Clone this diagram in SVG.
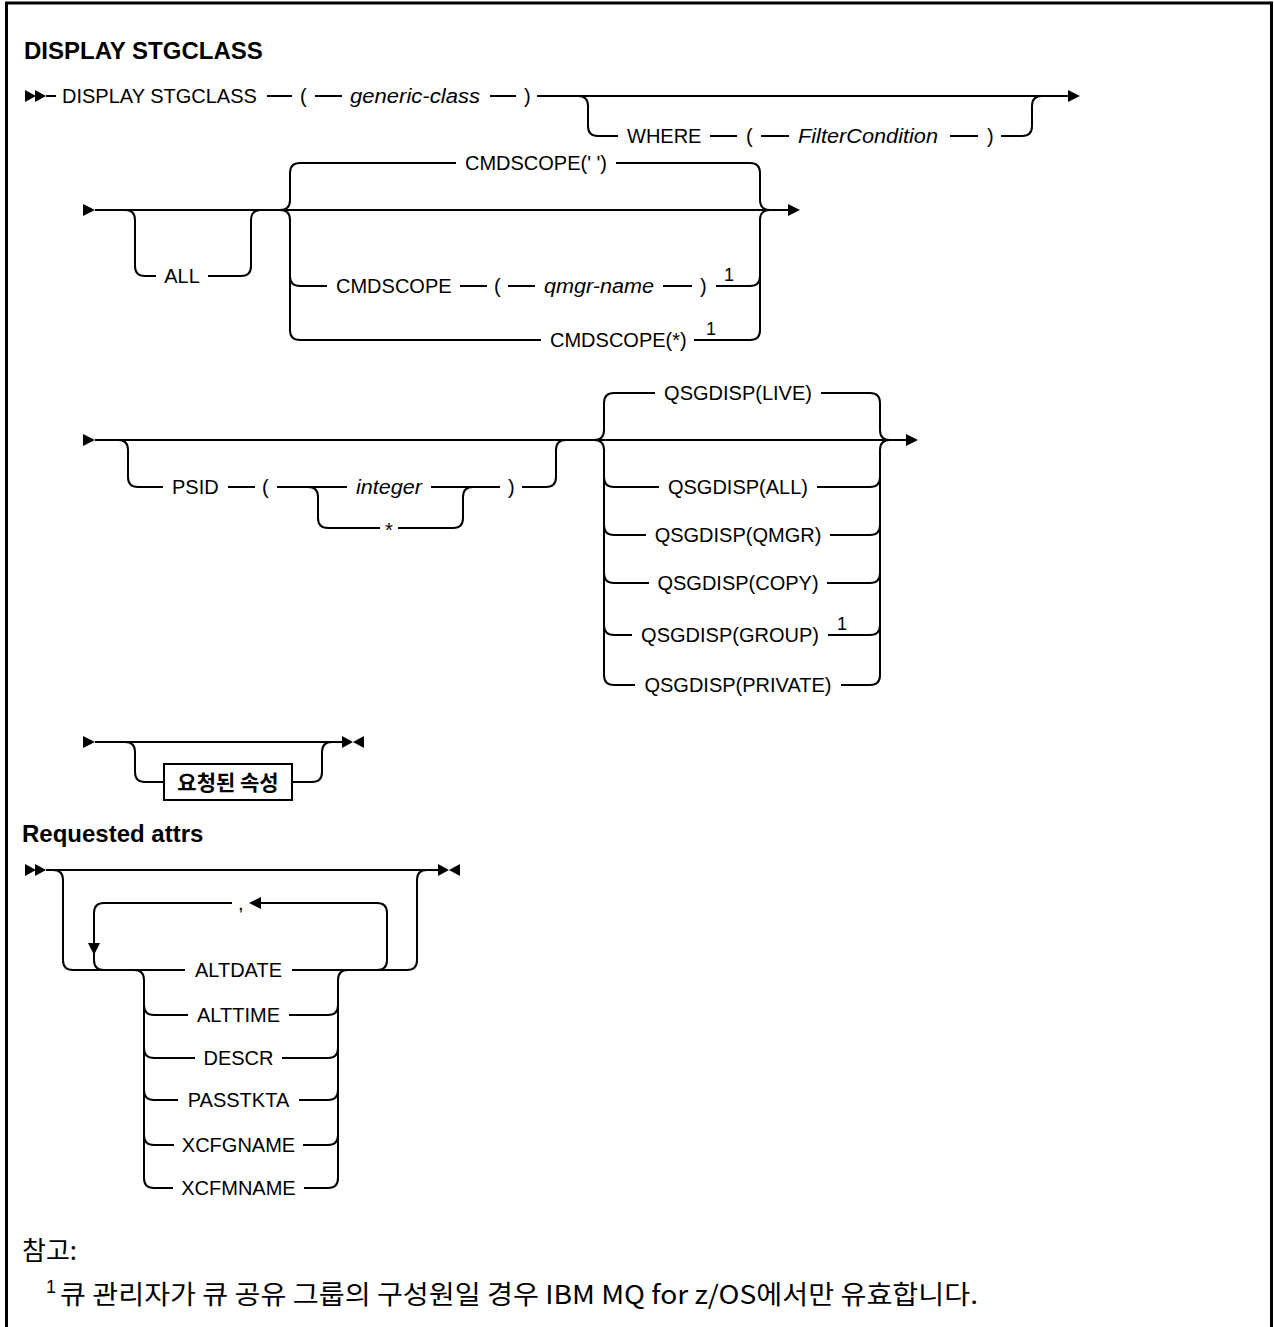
<svg xmlns="http://www.w3.org/2000/svg" width="1274" height="1327" viewBox="0 0 1274 1327">
<style>
.c{fill:none;stroke:#000;stroke-width:2}
.t{font-family:"Liberation Sans",Arial,sans-serif;font-size:20px;fill:#000}
.v{font-style:italic}
.m{text-anchor:middle}
.h{font-family:"Liberation Sans",Arial,sans-serif;font-size:24px;font-weight:bold;fill:#000}
.s{font-family:"Liberation Sans",Arial,sans-serif;font-size:18px;fill:#000}
.k{font-family:"Noto Sans CJK KR","Liberation Sans",sans-serif;fill:#000}
.box{fill:#fff;stroke:#000;stroke-width:2}
</style>
<defs>
<path id="ar" d="M0,-6L12,0L0,6Z"/>
<path id="al" d="M0,0L12,-6L12,6Z"/>
<path id="ad" d="M-6,0L6,0L0,12Z"/>
<g id="dbl"><path d="M0,-6L11,0L0,6Z"/><path d="M10,-6L21,0L10,6Z"/></g>
<g id="end"><path d="M0,-6L11,0L0,6Z"/><path d="M22,-6L11,0L22,6Z"/></g>
</defs>
<rect width="1274" height="1327" fill="#fff"/>
<path d="M6.5,1327V3H1271.5V1327" fill="none" stroke="#000" stroke-width="3"/>

<g id="connectors">
<!-- row 1 -->
<use href="#dbl" x="25" y="96"/>
<path class="c" d="M46,96H56"/>
<path class="c" d="M267,96H292"/>
<path class="c" d="M315,96H342"/>
<path class="c" d="M490,96H516"/>
<path class="c" d="M537,96H1068"/>
<use href="#ar" x="1068" y="96"/>
<path class="c" d="M578,96Q588,96 588,106V126Q588,136 598,136H618"/>
<path class="c" d="M710,136H737"/>
<path class="c" d="M761,136H789"/>
<path class="c" d="M950,136H978"/>
<path class="c" d="M1001,136H1022Q1032,136 1032,126V106Q1032,96 1042,96"/>
<!-- row 2 -->
<use href="#ar" x="83" y="210"/>
<path class="c" d="M95,210H788"/>
<use href="#ar" x="788" y="210"/>
<path class="c" d="M125,210Q135,210 135,220V266Q135,276 145,276H156"/>
<path class="c" d="M208,276H241Q251,276 251,266V220Q251,210 261,210"/>
<path class="c" d="M280,210Q290,210 290,200V173Q290,163 300,163H456"/>
<path class="c" d="M616,163H750Q760,163 760,173V200Q760,210 770,210"/>
<path class="c" d="M280,210Q290,210 290,220V330Q290,340 300,340H541"/>
<path class="c" d="M290,276Q290,286 300,286H327"/>
<path class="c" d="M460,286H487"/>
<path class="c" d="M508,286H535"/>
<path class="c" d="M663,286H692"/>
<path class="c" d="M716,286H750Q760,286 760,276"/>
<path class="c" d="M694,340H750Q760,340 760,330V220Q760,210 770,210"/>
<!-- row 3 -->
<use href="#ar" x="83" y="440"/>
<path class="c" d="M95,440H906"/>
<use href="#ar" x="906" y="440"/>
<path class="c" d="M118,440Q128,440 128,450V477Q128,487 138,487H163"/>
<path class="c" d="M228,487H255"/>
<path class="c" d="M277,487H347"/>
<path class="c" d="M431,487H500"/>
<path class="c" d="M522,487H546Q556,487 556,477V450Q556,440 566,440"/>
<path class="c" d="M308,487Q318,487 318,497V518Q318,528 328,528H380"/>
<path class="c" d="M398,528H453Q463,528 463,518V497Q463,487 473,487"/>
<path class="c" d="M594,440Q604,440 604,430V403Q604,393 614,393H655"/>
<path class="c" d="M821,393H870Q880,393 880,403V430Q880,440 890,440"/>
<path class="c" d="M594,440Q604,440 604,450V675Q604,685 614,685H635"/>
<path class="c" d="M604,477Q604,487 614,487H659"/>
<path class="c" d="M604,525Q604,535 614,535H646"/>
<path class="c" d="M604,573Q604,583 614,583H649"/>
<path class="c" d="M604,625Q604,635 614,635H632"/>
<path class="c" d="M841,685H870Q880,685 880,675V450Q880,440 890,440"/>
<path class="c" d="M817,487H870Q880,487 880,477"/>
<path class="c" d="M830,535H870Q880,535 880,525"/>
<path class="c" d="M827,583H870Q880,583 880,573"/>
<path class="c" d="M828,635H870Q880,635 880,625"/>
<!-- row 4 -->
<use href="#ar" x="83" y="742"/>
<path class="c" d="M95,742H342"/>
<use href="#end" x="342" y="742"/>
<path class="c" d="M125,742Q135,742 135,752V772Q135,782 145,782H164"/>
<path class="c" d="M292,782H312Q322,782 322,772V752Q322,742 332,742"/>
<!-- row 5 -->
<use href="#dbl" x="25" y="870"/>
<path class="c" d="M46,870H438"/>
<use href="#end" x="438" y="870"/>
<path class="c" d="M53,870Q63,870 63,880V960Q63,970 73,970H185"/>
<path class="c" d="M292,970H407Q417,970 417,960V880Q417,870 427,870"/>
<path class="c" d="M377,970Q387,970 387,960V913Q387,903 377,903H258"/>
<use href="#al" x="249" y="903"/>
<path class="c" d="M232,903H104Q94,903 94,913V960Q94,970 104,970"/>
<use href="#ad" x="94" y="943"/>
<path class="c" d="M134,970Q144,970 144,980V1178Q144,1188 154,1188H173"/>
<path class="c" d="M144,1005Q144,1015 154,1015H188"/>
<path class="c" d="M144,1048Q144,1058 154,1058H195"/>
<path class="c" d="M144,1090Q144,1100 154,1100H178"/>
<path class="c" d="M144,1135Q144,1145 154,1145H174"/>
<path class="c" d="M304,1188H328Q338,1188 338,1178V980Q338,970 348,970"/>
<path class="c" d="M289,1015H328Q338,1015 338,1005"/>
<path class="c" d="M282,1058H328Q338,1058 338,1048"/>
<path class="c" d="M299,1100H328Q338,1100 338,1090"/>
<path class="c" d="M303,1145H328Q338,1145 338,1135"/>
</g>

<g id="title-main"><text class="h" x="24" y="59">DISPLAY STGCLASS</text></g>
<g id="n-display"><text class="t" x="62" y="103">DISPLAY STGCLASS</text></g>
<g id="n-lp1"><text class="t" x="300" y="103">(</text></g>
<g id="n-generic"><text class="t v" x="350" y="103" textLength="130" lengthAdjust="spacingAndGlyphs">generic-class</text></g>
<g id="n-rp1"><text class="t" x="524" y="103">)</text></g>
<g id="n-where"><text class="t" x="627" y="143">WHERE</text></g>
<g id="n-lp2"><text class="t" x="746" y="143">(</text></g>
<g id="n-filter"><text class="t v" x="798" y="143" textLength="140" lengthAdjust="spacingAndGlyphs">FilterCondition</text></g>
<g id="n-rp2"><text class="t" x="987" y="143">)</text></g>

<g id="n-all"><text class="t m" x="182" y="283">ALL</text></g>
<g id="n-cmd-blank"><text class="t m" x="536" y="170">CMDSCOPE(' ')</text></g>
<g id="n-cmd-q"><text class="t" x="336" y="293">CMDSCOPE</text><text class="t" x="494" y="293">(</text><text class="t v" x="544" y="293" textLength="110" lengthAdjust="spacingAndGlyphs">qmgr-name</text><text class="t" x="700" y="293">)</text><text class="s" x="724" y="281">1</text></g>
<g id="n-cmd-star"><text class="t" x="550" y="347">CMDSCOPE(*)</text><text class="s" x="706" y="335">1</text></g>

<g id="n-psid"><text class="t" x="172" y="494">PSID</text><text class="t" x="262" y="494">(</text><text class="t" x="508" y="494">)</text></g>
<g id="n-integer"><text class="t v" x="356" y="494" textLength="66" lengthAdjust="spacingAndGlyphs">integer</text></g>
<g id="n-star"><text class="t m" x="389" y="537">*</text></g>
<g id="n-live"><text class="t m" x="738" y="400">QSGDISP(LIVE)</text></g>
<g id="n-qall"><text class="t m" x="738" y="494">QSGDISP(ALL)</text></g>
<g id="n-qmgr"><text class="t m" x="738" y="542">QSGDISP(QMGR)</text></g>
<g id="n-copy"><text class="t m" x="738" y="590">QSGDISP(COPY)</text></g>
<g id="n-group"><text class="t m" x="730" y="642">QSGDISP(GROUP)</text><text class="s" x="837" y="630">1</text></g>
<g id="n-private"><text class="t m" x="738" y="692">QSGDISP(PRIVATE)</text></g>

<g id="n-reqattrs-ref"><rect class="box" x="164" y="764" width="128" height="36"/><text class="k m" x="228" y="790" font-size="21" font-weight="bold">요청된 속성</text></g>

<g id="title-req"><text class="h" x="22" y="842">Requested attrs</text></g>
<g id="n-comma"><text class="t" x="238" y="910">,</text></g>
<g id="n-altdate"><text class="t m" x="238.5" y="977">ALTDATE</text></g>
<g id="n-alttime"><text class="t m" x="238.5" y="1022">ALTTIME</text></g>
<g id="n-descr"><text class="t m" x="238.5" y="1065">DESCR</text></g>
<g id="n-passtkta"><text class="t m" x="238.5" y="1107">PASSTKTA</text></g>
<g id="n-xcfgname"><text class="t m" x="238.5" y="1152">XCFGNAME</text></g>
<g id="n-xcfmname"><text class="t m" x="238.5" y="1195">XCFMNAME</text></g>

<g id="notes"><text class="k" x="22" y="1260" font-size="26">참고:</text><text class="s" x="46" y="1293" font-size="16">1</text><text class="k" x="60" y="1304" font-size="26" textLength="918" lengthAdjust="spacingAndGlyphs">큐 관리자가 큐 공유 그룹의 구성원일 경우 IBM MQ for z/OS에서만 유효합니다.</text></g>
</svg>
